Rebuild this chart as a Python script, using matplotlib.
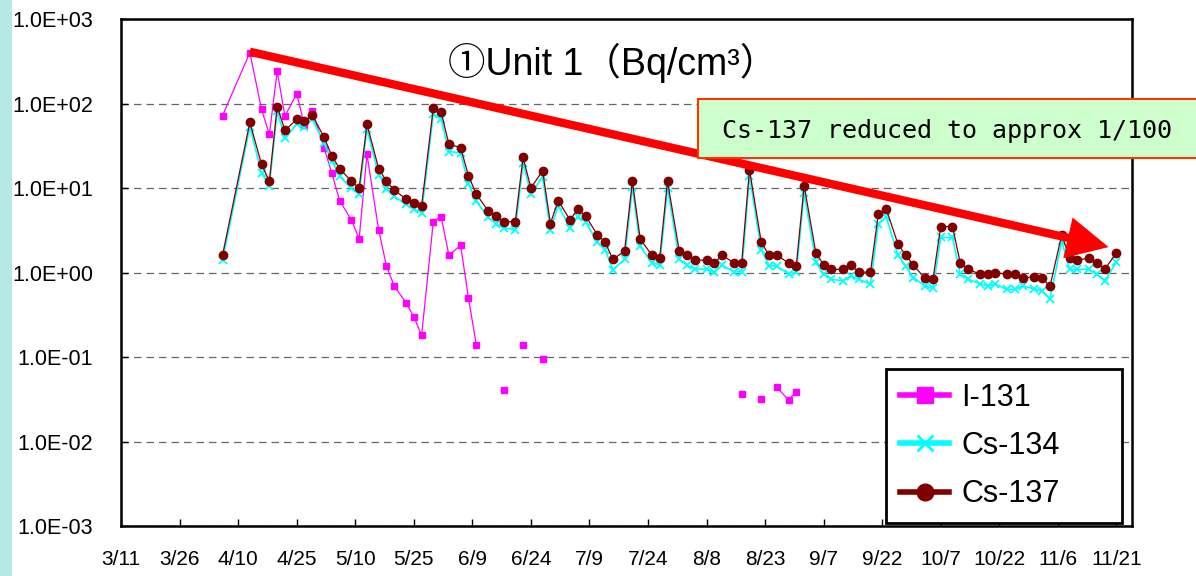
import datetime as dt
import numpy as np
import matplotlib
matplotlib.use("Agg")
import matplotlib.pyplot as plt
import matplotlib.dates as mdates
from matplotlib.lines import Line2D
from matplotlib.patches import Rectangle
from matplotlib.ticker import FixedLocator, FuncFormatter, NullLocator

# Sampling dates (2011) and concentrations in Bq/cm3
dates = [
    "4/6", "4/13", "4/16", "4/18", "4/20", "4/22", "4/25", "4/27", "4/29",
    "5/2", "5/4", "5/6", "5/9", "5/11", "5/13", "5/16", "5/18", "5/20",
    "5/23", "5/25", "5/27", "5/30", "6/1", "6/3", "6/6", "6/8", "6/10",
    "6/13", "6/15", "6/17", "6/20", "6/22", "6/24", "6/27", "6/29", "7/1",
    "7/4", "7/6", "7/8", "7/11", "7/13", "7/15", "7/18", "7/20", "7/22",
    "7/25", "7/27", "7/29", "8/1", "8/3", "8/5", "8/8", "8/10", "8/12",
    "8/15", "8/17", "8/19", "8/22", "8/24", "8/26", "8/29", "8/31", "9/2",
    "9/5", "9/7", "9/9", "9/12", "9/14", "9/16", "9/19", "9/21", "9/23",
    "9/26", "9/28", "9/30", "10/3", "10/5", "10/7", "10/10", "10/12", "10/14",
    "10/17", "10/19", "10/21", "10/24", "10/26", "10/28", "10/31", "11/2", "11/4",
    "11/7", "11/9", "11/11", "11/14", "11/16", "11/18", "11/21",
]
cs137 = [
    1.6, 60, 19, 12, 92, 48, 65, 62, 73,
    40, 24, 17, 12, 10, 57, 17, 12, 9.5,
    7.4, 6.6, 6.1, 88, 79, 33, 30, 14, 8.5,
    5.4, 4.7, 4.0, 4.0, 23, 10, 16, 3.8, 7.1,
    4.2, 5.6, 4.7, 2.8, 2.3, 1.43, 1.79, 12, 2.5,
    1.6, 1.49, 12, 1.8, 1.6, 1.4, 1.4, 1.3, 1.6,
    1.3, 1.3, 16.5, 2.3, 1.6, 1.6, 1.3, 1.21, 10.7,
    1.71, 1.23, 1.09, 1.09, 1.22, 1.01, 1.01, 4.9, 5.7,
    2.2, 1.6, 1.22, 0.85, 0.83, 3.5, 3.5, 1.3, 1.09,
    0.96, 0.96, 0.99, 0.96, 0.96, 0.87, 0.88, 0.85, 0.69,
    2.8, 1.49, 1.39, 1.49, 1.3, 1.09, 1.71,
]
cs134 = [
    1.4, 53, 15, 10.7, 81, 39, 57, 53, 65,
    34, 21, 13.8, 9.9, 8.6, 50, 14.4, 9.8, 8.0,
    6.4, 5.6, 5.1, 76, 65, 27, 26, 11.2, 7.0,
    4.5, 3.8, 3.4, 3.2, 20, 8.5, 13.4, 3.2, 6.2,
    3.4, 4.6, 4.0, 2.3, 1.87, 1.08, 1.43, 10.3, 2.05,
    1.3, 1.24, 10, 1.43, 1.22, 1.1, 1.1, 1.01, 1.22,
    1.02, 1.02, 14, 1.87, 1.21, 1.19, 0.96, 1.01, 8.8,
    1.32, 0.95, 0.83, 0.8, 0.9, 0.83, 0.73, 3.7, 4.6,
    1.63, 1.19, 0.87, 0.69, 0.65, 2.6, 2.6, 0.95, 0.83,
    0.74, 0.7, 0.73, 0.63, 0.63, 0.69, 0.64, 0.6, 0.49,
    2.35, 1.09, 1.09, 1.09, 0.95, 0.8, 1.32,
]
nan = np.nan
i131 = [
    72, 400, 85, 43, 240, 71, 131, 55, 81,
    30, 15, 7.1, 4.2, 2.5, 25, 3.2, 1.19, 0.69,
    0.44, 0.30, 0.18, 4.0, 4.6, 1.6, 2.1, 0.5, 0.14,
    nan, nan, 0.041, nan, 0.14, nan, 0.094, nan, nan,
    nan, nan, nan, nan, nan, nan, nan, nan, nan,
    nan, nan, nan, nan, nan, nan, nan, nan, nan,
    nan, 0.036, nan, 0.032, nan, 0.044, 0.031, 0.039, nan,
    nan, nan, nan, nan, nan, nan, nan, nan, nan,
    nan, nan, nan, nan, nan, nan, nan, nan, nan,
    nan, nan, nan, nan, nan, nan, nan, nan, nan,
    nan, nan, nan, nan, nan, nan, nan,
]
tick_labels = ["3/11", "3/26", "4/10", "4/25", "5/10", "5/25", "6/9", "6/24",
               "7/9", "7/24", "8/8", "8/23", "9/7", "9/22", "10/7", "10/22",
               "11/6", "11/21"]
series_names = ["I-131", "Cs-134", "Cs-137"]

# trend arrow: from the I-131 peak down to late November
arrow_start = ("4/13", 410)
arrow_end = ("11/19", 2.0)


def to_date(s):
    m, d = s.split("/")
    return dt.date(2011, int(m), int(d))


x = mdates.date2num([to_date(s) for s in dates])

fig = plt.figure(figsize=(11.96, 5.76), dpi=100)
fig.add_artist(Rectangle((0, 0), 12 / 1196, 1, transform=fig.transFigure,
                         color="#b4e9e4", lw=0))
ax = fig.add_axes([0.1012, 0.0868, 0.8453, 0.8802])

ax.plot(x, i131, color="#ff00ff", marker="s", ms=5, lw=0.9, zorder=3)
ax.plot(x, cs134, color="#00ffff", marker="x", ms=6, mew=1.3, lw=1.2, zorder=3)
ax.plot(x, cs137, color="#800000", marker="o", ms=6, lw=0.9, zorder=3)

ax.set_yscale("log")
ax.set_ylim(1e-3, 1e3)
ax.set_xlim(mdates.date2num(to_date("3/11")), mdates.date2num(dt.date(2011, 11, 25)))
ax.yaxis.set_major_locator(FixedLocator(10.0 ** np.arange(-3, 4)))
ax.yaxis.set_minor_locator(NullLocator())
ax.yaxis.set_major_formatter(FuncFormatter(lambda v, p: f"{v:.1E}"))
ax.set_xticks(mdates.date2num([to_date(s) for s in tick_labels]))
ax.set_xticklabels(tick_labels, family="Liberation Sans", fontsize=15)
for lab in ax.get_yticklabels():
    lab.set_family("Liberation Sans")
    lab.set_fontsize(15.5)
ax.tick_params(axis="both", direction="in", length=5, width=1)
ax.tick_params(axis="y", pad=20)
ax.tick_params(axis="x", pad=17)
for sp in ax.spines.values():
    sp.set_linewidth(1.8)

ax.yaxis.grid(True, linestyle=(0, (6, 4)), color="#666666", lw=0.9)
ax.set_axisbelow(True)

ax.annotate("", xy=(mdates.date2num(to_date(arrow_end[0])), arrow_end[1]),
            xytext=(mdates.date2num(to_date(arrow_start[0])), arrow_start[1]),
            arrowprops=dict(arrowstyle="simple,head_length=3,head_width=3,tail_width=0.6",
                            fc="#ff0000", ec="none", lw=0, mutation_scale=10,
                            shrinkA=0, shrinkB=0),
            zorder=5)

fig.text(0.5125, 0.89, "①Unit 1（Bq/cm³）", ha="center", va="center", fontsize=27,
         family=["Liberation Sans", "Noto Sans CJK JP"])

fig.add_artist(Rectangle((698 / 1196, 1 - 158 / 576), 0.45, 59 / 576,
                         transform=fig.transFigure, fc="#ccffcc", ec="#ff3300",
                         lw=1.5, zorder=6))
fig.text(0.792, 1 - 131 / 576, "Cs-137 reduced to approx 1/100", ha="center",
         va="center", fontsize=18, family="DejaVu Sans Mono", zorder=7)

handles = [
    Line2D([], [], color="#ff00ff", lw=4, marker="s", ms=11),
    Line2D([], [], color="#00ffff", lw=4, marker="x", ms=12, mew=2),
    Line2D([], [], color="#800000", lw=4, marker="o", ms=12),
]
leg = ax.legend(handles, series_names, loc="lower left",
                bbox_to_anchor=(0.757, 0.006, 0.233, 0.331), mode="expand",
                borderaxespad=0, fancybox=False, edgecolor="black", framealpha=1,
                prop=dict(family="Liberation Sans", size=22), handlelength=1.6,
                handletextpad=0.4, labelspacing=0.6, borderpad=0.45)
leg.get_frame().set_linewidth(2)
leg.set_zorder(8)

fig.savefig("out.png", dpi=100)
